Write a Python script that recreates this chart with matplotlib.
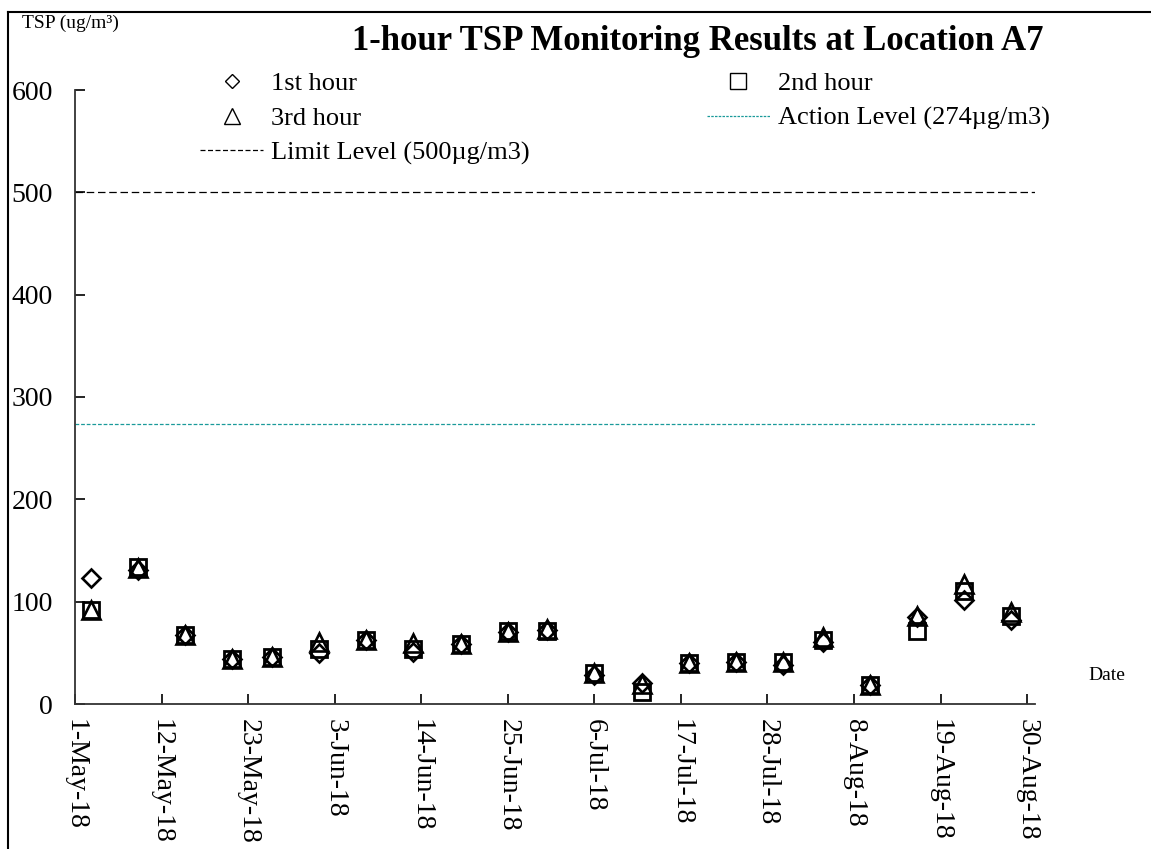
import datetime as dt
import matplotlib
matplotlib.use("Agg")
import matplotlib.pyplot as plt
from matplotlib.lines import Line2D

plt.rcParams["font.family"] = ["Liberation Serif", "DejaVu Serif"]

# monitoring dates and 1-hour TSP readings (ug/m3)
dates = ["2018-05-03", "2018-05-09", "2018-05-15", "2018-05-21", "2018-05-26",
         "2018-06-01", "2018-06-07", "2018-06-13", "2018-06-19", "2018-06-25",
         "2018-06-30", "2018-07-06", "2018-07-12", "2018-07-18", "2018-07-24",
         "2018-07-30", "2018-08-04", "2018-08-10", "2018-08-16", "2018-08-22",
         "2018-08-28"]
hour1 = [123, 131, 67, 44, 46, 50, 63, 51, 59, 70, 72, 28, 21, 40, 41, 38, 61, 19, 85, 102, 82]
hour2 = [92, 134, 67, 44, 46, 54, 63, 54, 59, 71, 71, 30, 12, 40, 41, 41, 63, 19, 71, 110, 86]
hour3 = [92, 133, 67, 44, 46, 61, 63, 60, 59, 70, 73, 30, 20, 40, 41, 41, 65, 19, 86, 117, 90]
action_level = 274
limit_level = 500

x = [dt.datetime.strptime(d, "%Y-%m-%d") for d in dates]
start = dt.datetime(2018, 5, 1)
end = dt.datetime(2018, 8, 31)
tick_dates = [start + dt.timedelta(days=11 * i) for i in range(12)]

W, H = 1151, 849
fig = plt.figure(figsize=(W / 100, H / 100), dpi=100)
ax = fig.add_axes([75 / W, 1 - 704 / H, (1035 - 75) / W, (704 - 90) / H])

ax.axhline(limit_level, color="black", lw=0.9, ls=(0, (6, 3)))
ax.axhline(action_level, color="#1a9a9a", lw=0.9, ls=(0, (3, 1.5)))

ax.plot(x, hour1, ls="none", marker="D", ms=9, mfc="none", mec="black", mew=1.9)
ax.plot(x, hour2, ls="none", marker="s", ms=12, mfc="none", mec="black", mew=2)
ax.plot(x, hour3, ls="none", marker="^", ms=12.5, mfc="none", mec="black", mew=1.9)

ax.set_xlim(start, end)
ax.set_ylim(0, 600)
ax.set_yticks(range(0, 601, 100))
ax.set_xticks(tick_dates)
ax.set_xticklabels([f"{d.day}-{d:%b-%y}" for d in tick_dates], rotation=270)
ax.tick_params(axis="both", direction="in", length=7, width=1.2, labelsize=20)
ax.tick_params(axis="y", pad=16)
ax.tick_params(axis="x", pad=11)
for s in ["top", "right"]:
    ax.spines[s].set_visible(False)
for s in ["left", "bottom"]:
    ax.spines[s].set_linewidth(1.3)
    ax.spines[s].set_color("#333333")

fig.text(22 / W, 1 - 23 / H, "TSP (ug/m³)", fontsize=14, va="center", ha="left")
fig.text(1107 / W, 1 - 676 / H, "Date", fontsize=14, va="center", ha="center")
fig.text(698 / W, 1 - 42 / H, "1-hour TSP Monitoring Results at Location A7",
         fontsize=25, fontweight="bold", ha="center", va="center")

handles = [
    Line2D([], [], ls="none", marker="D", ms=7, mfc="none", mec="black", mew=1),
    Line2D([], [], ls="none", marker="^", ms=11, mfc="none", mec="black", mew=1),
    Line2D([], [], color="black", lw=0.9, ls=(0, (4, 2))),
    Line2D([], [], ls="none", marker="s", ms=11, mfc="none", mec="black", mew=1),
    Line2D([], [], color="#1a9a9a", lw=0.9, ls=(0, (2, 1))),
]
labels = ["1st hour", "3rd hour", "Limit Level (500µg/m3)", "2nd hour", "Action Level (274µg/m3)"]
fig.legend(handles, labels, ncol=2, loc="upper left", bbox_to_anchor=(200 / W, 1 - 72 / H),
           frameon=False, fontsize=19, handlelength=2.4, handletextpad=0.3,
           columnspacing=6.7, labelspacing=0.42, borderpad=0, borderaxespad=0)

# outer frame (top and left edges visible)
fig.add_artist(Line2D([8 / W, 1], [1 - 12 / H, 1 - 12 / H], color="black", lw=1.5))
fig.add_artist(Line2D([8 / W, 8 / W], [0, 1 - 12 / H], color="black", lw=1.5))

fig.savefig("out.png", dpi=100)
